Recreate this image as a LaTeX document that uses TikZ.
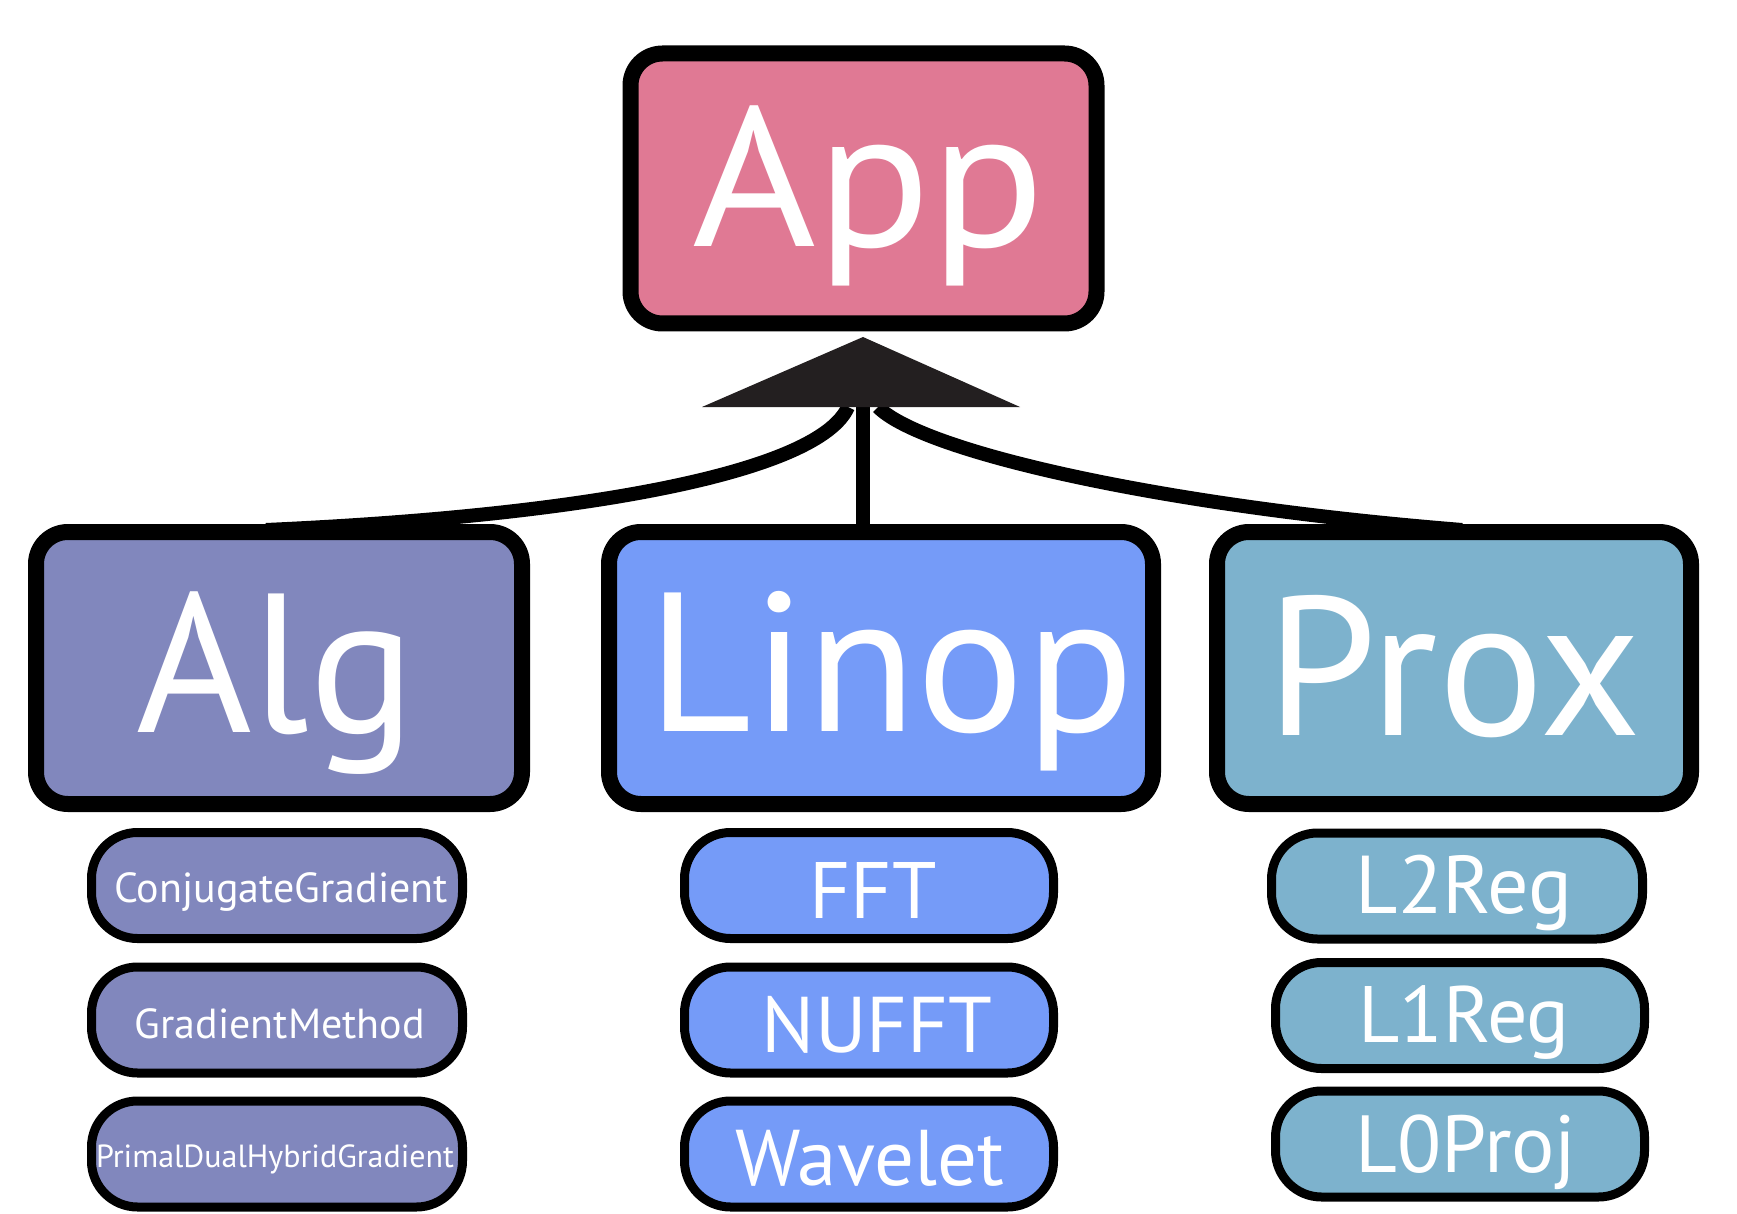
\documentclass[tikz,border=0pt]{standalone}
\usepackage{fontspec}
\setmainfont{PT Sans}
\definecolor{appc}{HTML}{E07994}
\definecolor{algc}{HTML}{8187BD}
\definecolor{linc}{HTML}{759BF8}
\definecolor{proxc}{HTML}{7DB2CD}
\definecolor{headc}{HTML}{231F20}
\begin{document}
\begin{tikzpicture}[x=1pt,y=-1pt,
  bigbox/.style={draw=black,line width=16pt,rounded corners=32pt,minimum height=272pt,inner sep=0pt},
  subbox/.style={draw=black,line width=9pt,rounded corners=46pt,minimum height=106pt,inner sep=0pt},
  bigtxt/.style={anchor=base,text=white,inner sep=0pt,font=\fontsize{198}{198}\selectfont},
  subtxt/.style={anchor=base,text=white,inner sep=0pt},
  conn/.style={draw=black,line width=14pt}]
\useasboundingbox (0,0) rectangle (1737,1214);
% hub and arrowhead
\coordinate (hub) at (863,407);
\coordinate (apex) at (863,337);
% connectors
\draw[conn] ([xshift=-15pt]hub) .. controls +(-28,63) and +(334,-15) .. (266,530) coordinate (algend);
\draw[conn] ([xshift=15pt]hub) .. controls +(42,43) and +(-312,-25) .. (1462,530) coordinate (proxend);
\draw[conn] (hub) -- (hub |- 0,530);
\fill[headc] (apex) -- ([xshift=157pt]hub) -- ([xshift=-161pt]hub) -- cycle;
% main boxes
\node[bigbox,fill=appc,minimum width=466pt,minimum height=270pt] (app) at (863.5,188.5) {};
\node[bigtxt] (apptxt) at (869,247) {\scalebox{1.07}[1]{App}};
\node[bigbox,fill=algc,minimum width=486pt] (alg) at (279,668) {};
\node[bigtxt] (algtxt) at (276,732) {Alg};
\node[bigbox,fill=linc,minimum width=544pt] (linop) at (881,668) {};
\node[bigtxt] (linoptxt) at (891,731) {\scalebox{1.02}[1]{Linop}};
\node[bigbox,fill=proxc,minimum width=474pt] (prox) at (1454,668) {};
\node[bigtxt] (proxtxt) at (1454,735) {Prox};
% Alg sub boxes
\node[subbox,fill=algc,minimum width=371pt] (cg) at (277,885.5) {};
\node[subtxt,font=\fontsize{42}{42}\selectfont] (cgtxt) at (281,902) {ConjugateGradient};
\node[subbox,fill=algc,minimum width=371pt] (gm) at (277,1020) {};
\node[subtxt,font=\fontsize{42}{42}\selectfont] (gmtxt) at (280,1038) {GradientMethod};
\node[subbox,fill=algc,minimum width=371pt] (pd) at (277,1154) {};
\node[subtxt,font=\fontsize{32}{32}\selectfont] (pdtxt) at (275,1167) {PrimalDualHybridGradient};
% Linop sub boxes
\node[subbox,fill=linc,minimum width=369pt] (fft) at (869,885.5) {};
\node[subtxt,font=\fontsize{80}{80}\selectfont] (ffttxt) at (873,918) {FFT};
\node[subbox,fill=linc,minimum width=369pt] (nufft) at (869,1020) {};
\node[subtxt,font=\fontsize{79}{79}\selectfont] (nuffttxt) at (877,1052) {NUFFT};
\node[subbox,fill=linc,minimum width=369pt] (wav) at (869,1154) {};
\node[subtxt,font=\fontsize{79}{79}\selectfont] (wavtxt) at (870,1185) {Wavelet};
% Prox sub boxes
\node[subbox,fill=proxc,minimum width=371pt] (l2) at (1457,886) {};
\node[subtxt,font=\fontsize{82}{82}\selectfont] (l2txt) at (1464,913) {L2Reg};
\node[subbox,fill=proxc,minimum width=369pt] (l1) at (1460,1015.5) {};
\node[subtxt,font=\fontsize{80}{80}\selectfont] (l1txt) at (1464,1042) {L1Reg};
\node[subbox,fill=proxc,minimum width=369pt] (l0) at (1460,1144) {};
\node[subtxt,font=\fontsize{81}{81}\selectfont] (l0txt) at (1466,1172) {L0Proj};
\end{tikzpicture}
\end{document}
